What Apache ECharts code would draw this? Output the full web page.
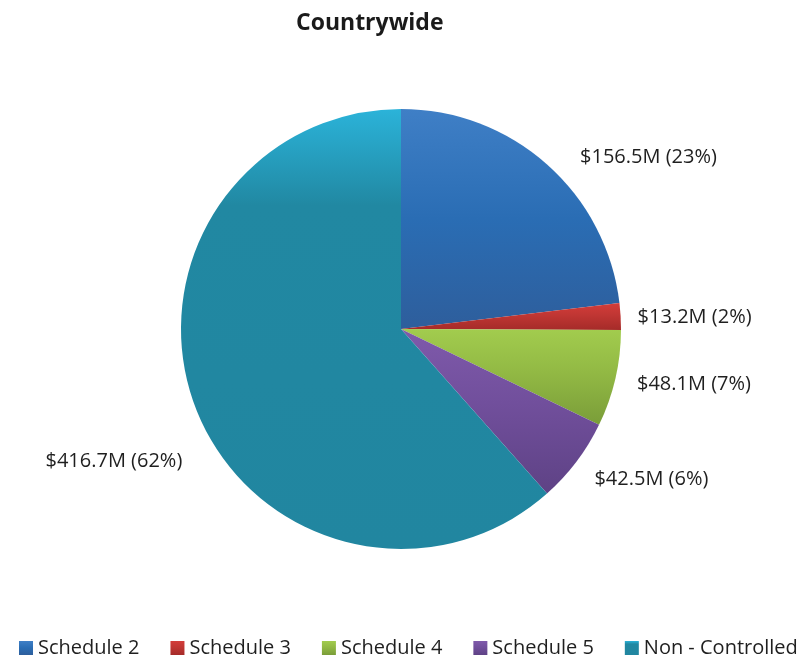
<!DOCTYPE html>
<html>
<head>
<meta charset="utf-8">
<script src="https://cdn.jsdelivr.net/npm/echarts@6/dist/echarts.min.js"></script>
<style>
  html, body { margin: 0; padding: 0; background: #ffffff; }
  #chart { width: 804px; height: 658px; }
</style>
</head>
<body>
<div id="chart"></div>
<script>
// Spending by schedule, in millions of dollars
const categories = ['Schedule 2', 'Schedule 3', 'Schedule 4', 'Schedule 5', 'Non - Controlled'];
const amounts = [156.5, 13.2, 48.1, 42.5, 416.7];
const percentLabels = ['23%', '2%', '7%', '6%', '62%'];

// Top-to-bottom shading for each slice: [light, mid, dark, mid stop]
const shades = [
  ['#3f7fc6', '#2a6db4', '#2e5e9c', 0.5],
  ['#d33d3a', '#c03633', '#a52b29', 0.45],
  ['#a2cc4e', '#92b944', '#7a9d39', 0.45],
  ['#7f5aab', '#714f9c', '#5e4285', 0.45],
  ['#2bb3d9', '#2188a2', '#2186a0', 0.22]
];

// Extra label offsets [dx, dy] applied after the outside layout
const labelNudge = [[18, 4], [-3, 2], [2, 2], [1, 8], [6, 49]];

function gradient(c) {
  return new echarts.graphic.LinearGradient(0, 0, 0, 1, [
    { offset: 0, color: c[0] },
    { offset: c[3], color: c[1] },
    { offset: 1, color: c[2] }
  ]);
}

const pieData = categories.map((name, i) => ({
  name: name,
  value: amounts[i],
  pct: percentLabels[i],
  itemStyle: { color: gradient(shades[i]) }
}));

const chart = echarts.init(document.getElementById('chart'));
chart.setOption({
  backgroundColor: '#ffffff',
  animation: false,
  color: shades.map(s => s[1]),
  title: {
    text: 'Countrywide',
    left: 291,
    top: 7,
    textStyle: { fontFamily: 'Open Sans', fontWeight: 'bold', fontSize: 23, color: '#1a1a1a' }
  },
  legend: {
    bottom: 0,
    left: 19,
    right: 0,
    padding: 0,
    itemWidth: 14,
    itemHeight: 14,
    itemGap: 31,
    icon: 'rect',
    textStyle: { fontFamily: 'Open Sans', fontSize: 20, color: '#1f1f1f' },
    data: categories
  },
  series: [{
    type: 'pie',
    center: [401, 329],
    radius: [0, 220],
    startAngle: 90,
    clockwise: true,
    avoidLabelOverlap: false,
    itemStyle: { borderWidth: 0 },
    label: {
      show: true,
      position: 'outside',
      fontFamily: 'Open Sans',
      fontSize: 20,
      color: '#1f1f1f',
      formatter: p => '$' + p.value.toFixed(1) + 'M (' + p.data.pct + ')'
    },
    labelLine: { show: false, length: 15, length2: 0 },
    labelLayout: p => ({ dx: labelNudge[p.dataIndex][0], dy: labelNudge[p.dataIndex][1] }),
    emphasis: { disabled: true },
    data: pieData
  }]
});
</script>
</body>
</html>
